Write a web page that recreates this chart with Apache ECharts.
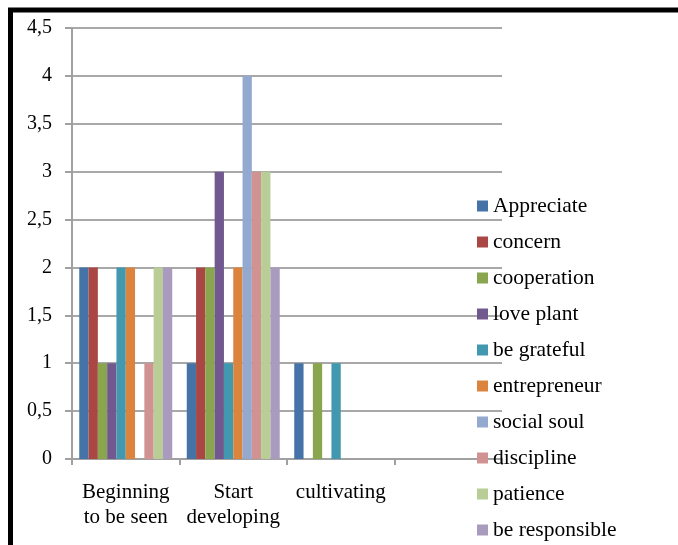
<!DOCTYPE html>
<html>
<head>
<meta charset="utf-8">
<script src="https://cdn.jsdelivr.net/npm/echarts@6/dist/echarts.min.js"></script>
<style>
html,body{margin:0;padding:0;background:#fff;}
#chart{width:678px;height:545px;}
</style>
</head>
<body>
<div id="chart"></div>
<script>
const categories = ["Beginning\nto be seen", "Start\ndeveloping", "cultivating", ""];
const seriesNames = ["Appreciate", "concern", "cooperation", "love plant", "be grateful", "entrepreneur", "social soul", "discipline", "patience", "be responsible"];
const appreciate = [2, 1, 1, null];
const concern = [2, 2, 0, null];
const cooperation = [1, 2, 1, null];
const lovePlant = [1, 3, 0, null];
const beGrateful = [2, 1, 1, null];
const entrepreneur = [2, 2, 0, null];
const socialSoul = [0, 4, 0, null];
const discipline = [1, 3, 0, null];
const patience = [2, 3, 0, null];
const beResponsible = [2, 2, 0, null];
const yTicks = { min: 0, max: 4.5, interval: 0.5 };
const colors = ["#4572A7", "#AA4643", "#89A54E", "#71588F", "#4198AF", "#DB843D", "#93A9CF", "#D19392", "#B9CD96", "#A99BBD"];

const values = [appreciate, concern, cooperation, lovePlant, beGrateful, entrepreneur, socialSoul, discipline, patience, beResponsible];
const font = "'Liberation Serif', 'Times New Roman', serif";

const chart = echarts.init(document.getElementById('chart'), null, { renderer: 'canvas' });
chart.setOption({
  animation: false,
  backgroundColor: '#fff',
  color: colors,
  grid: { left: 72, right: 176, top: 28, bottom: 86 },
  legend: {
    orient: 'vertical',
    left: 477,
    top: 195,
    padding: 0,
    itemWidth: 11,
    itemHeight: 11,
    itemGap: 14,
    icon: 'rect',
    textStyle: { fontFamily: font, fontSize: 21.5, color: '#000', lineHeight: 22 },
    data: seriesNames
  },
  xAxis: {
    type: 'category',
    data: categories,
    axisLine: { lineStyle: { color: '#a0a0a0', width: 2 } },
    axisTick: { show: true, length: 6, lineStyle: { color: '#a0a0a0', width: 2 } },
    axisLabel: { interval: 0, fontFamily: font, fontSize: 21, lineHeight: 25, color: '#000', margin: 21 },
    splitLine: { show: false }
  },
  yAxis: {
    type: 'value',
    min: yTicks.min,
    max: yTicks.max,
    interval: yTicks.interval,
    axisLine: { show: true, lineStyle: { color: '#a0a0a0', width: 2 } },
    axisTick: { show: true, length: 7, lineStyle: { color: '#a0a0a0', width: 2 } },
    axisLabel: {
      fontFamily: font, fontSize: 20, color: '#000', margin: 20,
      formatter: v => String(v).replace('.', ',')
    },
    splitLine: { show: true, lineStyle: { color: '#a8a8a8', width: 2 } }
  },
  graphic: [{
    type: 'rect',
    shape: { x: 10.5, y: 10, width: 800, height: 700 },
    style: { fill: 'none', stroke: '#000', lineWidth: 5 },
    silent: true,
    z: 100
  }],
  series: seriesNames.map((name, i) => ({
    name: name,
    type: 'bar',
    data: values[i],
    barGap: '0%',
    barCategoryGap: '13.5%',
    itemStyle: { color: colors[i] }
  }))
});
</script>
</body>
</html>
